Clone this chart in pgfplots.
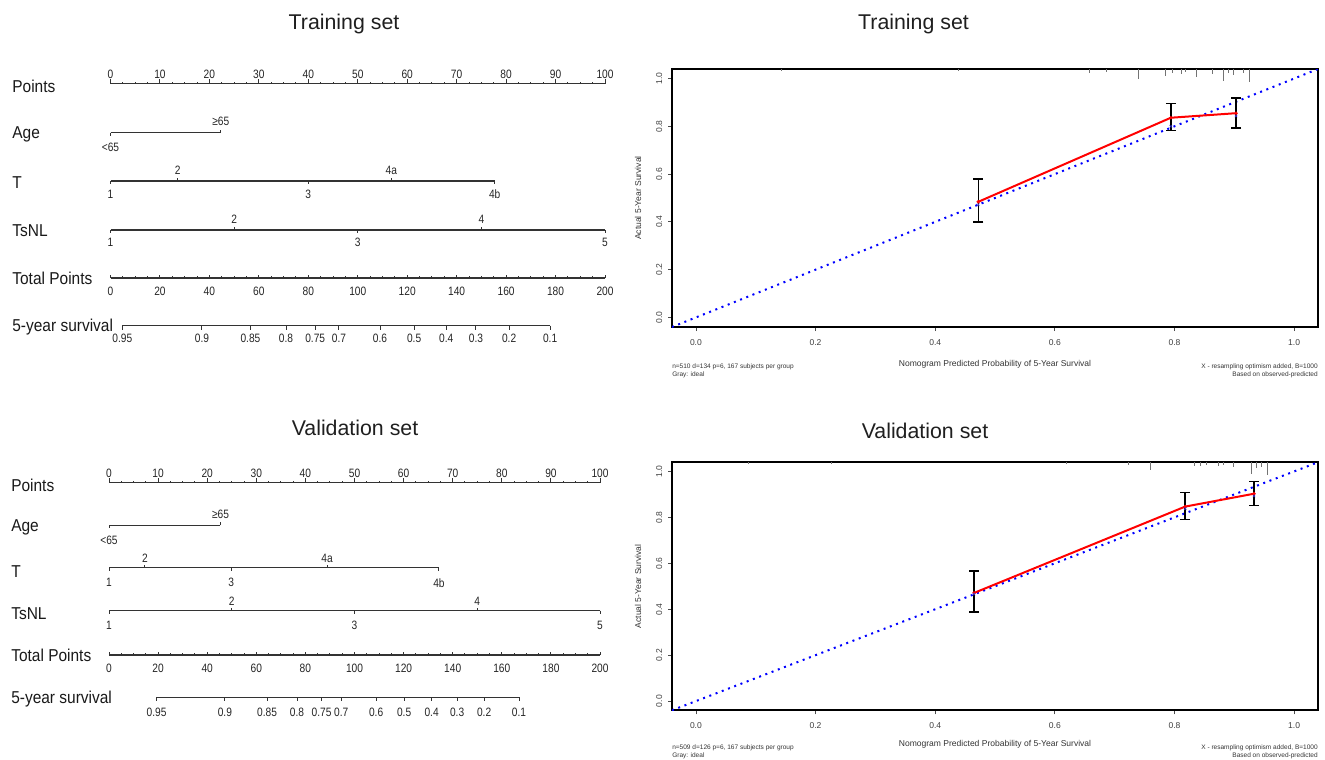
\documentclass[border=0pt]{standalone}
\usepackage{fontspec}
\setmainfont{Liberation Sans}
\newfontfamily\condf[FakeStretch=0.84]{Liberation Sans}
\newfontfamily\rowf[FakeStretch=0.9]{Liberation Sans}
\usepackage{pgfplots}
\usepackage{pgfplotstable}
\pgfplotsset{compat=1.18}
\newcommand{\fs}[1]{\fontsize{#1}{#1}\selectfont}

% tick positions (in points units, 0-100)
\pgfplotstableread[row sep=\\]{x d\\0 0\\10 0\\20 0\\30 0\\40 0\\50 0\\60 0\\70 0\\80 0\\90 0\\100 0\\}\majpos
\pgfplotstableread[row sep=\\]{x d\\2.5 0\\5 0\\7.5 0\\12.5 0\\15 0\\17.5 0\\22.5 0\\25 0\\27.5 0\\32.5 0\\35 0\\37.5 0\\42.5 0\\45 0\\47.5 0\\52.5 0\\55 0\\57.5 0\\62.5 0\\65 0\\67.5 0\\72.5 0\\75 0\\77.5 0\\82.5 0\\85 0\\87.5 0\\92.5 0\\95 0\\97.5 0\\}\minpos

% calibration data
\pgfplotstableread[row sep=\\]{x y lo hi\\0.472 0.484 0.399 0.579\\0.794 0.836 0.782 0.895\\0.903 0.855 0.794 0.919\\}\calTr
\pgfplotstableread[row sep=\\]{x y lo hi\\0.465 0.471 0.388 0.567\\0.818 0.847 0.791 0.908\\0.933 0.903 0.852 0.956\\}\calVa
\pgfplotstableread[row sep=\\]{x len\\0.143 2\\0.438 2\\0.658 4\\0.686 3\\0.740 10\\0.785 7\\0.797 4\\0.811 5\\0.818 3\\0.837 8\\0.864 5\\0.881 12\\0.890 4\\0.899 6\\0.915 4\\0.926 13\\}\rugTr
\pgfplotstableread[row sep=\\]{x len\\0.088 2\\0.227 2\\0.619 2\\0.723 3\\0.760 8\\0.834 4\\0.843 4\\0.853 3\\0.873 4\\0.882 3\\0.898 5\\0.928 12\\0.937 6\\0.946 5\\0.956 13\\}\rugVa
\pgfplotstableread[row sep=\\]{x d\\2.4 0\\18.5 0\\28.3 0\\35.5 0\\41.4 0\\46.2 0\\54.5 0\\61.4 0\\67.9 0\\73.9 0\\80.6 0\\88.9 0\\}\survTr
\pgfplotstableread[row sep=\\]{x d\\9.7 0\\23.6 0\\32.2 0\\38.3 0\\43.3 0\\47.3 0\\54.4 0\\60.1 0\\65.7 0\\70.9 0\\76.4 0\\83.5 0\\}\survVa

\tikzset{
  tlab/.style={font=\condf\fs{9.1pt}, text=black!85, inner sep=0pt, anchor=center},
  rlab/.style={font=\rowf\fs{12.9pt}, text=black!90, inner sep=0pt, anchor=base west},
  ttl/.style={font=\fs{16pt}, text=black!88, inner sep=0pt, anchor=base},
  fn/.style={font=\fs{4.9pt}, text=black!80, inner sep=0pt},
}
\newcommand{\nl}[3]{\node[tlab] at (axis cs:#1,#2) {#3};}

\pgfplotsset{
  nomo/.style={scale only axis, hide axis, clip=false, y dir=reverse, width=465pt, height=285pt},
  nline/.style={black!80, line width=1pt, mark=none},
  ntick/.style={black!80, line width=0.75pt, mark=none},
  calib/.style={
    scale only axis, width=484.5pt, clip mode=individual,
    xmin=-0.04, xmax=1.04, ymin=-0.04, ymax=1.04,
    axis line style={line width=1.5pt, black},
    xtick pos=left, ytick pos=left, tick align=outside, major tick length=3pt,
    tick style={black!70, line width=0.6pt},
    xtick={0,0.2,0.4,0.6,0.8,1}, xticklabels={0.0,0.2,0.4,0.6,0.8,1.0},
    ytick={0,0.2,0.4,0.6,0.8,1}, yticklabels={0.0,0.2,0.4,0.6,0.8,1.0},
    ticklabel style={font=\fs{6.4pt}, text=black!75},
    xticklabel style={inner sep=5.9pt},
    yticklabel style={rotate=90, anchor=south, inner sep=4.2pt},
    xlabel={Nomogram Predicted Probability of 5-Year Survival},
    ylabel={Actual 5-Year Survival},
    label style={font=\fs{6.4pt}, text=black!80},
    ylabel style={at={(axis description cs:-0.0527,0.5)}, anchor=center},
  },
  diag/.style={blue, line width=1.5pt, dash pattern=on 1.5pt off 3.5pt, mark=none},
  calline/.style={red, line width=1.5pt, mark=*, mark size=1.1pt, mark options={fill=red, draw=red, line width=0.4pt},
    error bars/.cd, y dir=both, y explicit,
    error bar style={black, line width=1.1pt},
    error mark options={rotate=90, black, line width=1.1pt, mark size=3.75pt}},
}

\begin{document}
\begin{tikzpicture}
\useasboundingbox (0,0) rectangle (993.75pt,-570pt);

% ---------- titles ----------
\node[ttl] at (344*0.75pt,-29.2*0.75pt) {Training set};
\node[ttl] at (913.5*0.75pt,-29.7*0.75pt) {Training set};
\node[ttl] at (355*0.75pt,-435.7*0.75pt) {Validation set};
\node[ttl] at (925*0.75pt,-438.7*0.75pt) {Validation set};

% ---------- Training nomogram ----------
\begin{axis}[nomo, at={(0pt,0pt)}, anchor=north west, xmin=-22.346, xmax=103.03, ymin=0, ymax=380]
\node[rlab] at (axis cs:-19.9,92.2) {Points};
\node[rlab] at (axis cs:-19.9,138.7) {Age};
\node[rlab] at (axis cs:-19.9,188.7) {T};
\node[rlab] at (axis cs:-19.9,236.7) {TsNL};
\node[rlab] at (axis cs:-19.9,284.2) {Total Points};
\node[rlab] at (axis cs:-19.9,331.7) {5-year survival};
% Points
\addplot[nline] coordinates {(0,83.5) (100,83.5)};
\addplot[ntick, quiver={u=0,v=-5}] table[x=x, y expr=83.5] {\majpos};
\addplot[ntick, quiver={u=0,v=-2}] table[x=x, y expr=83.5] {\minpos};
\nl{0}{74.5}{0}\nl{10}{74.5}{10}\nl{20}{74.5}{20}\nl{30}{74.5}{30}\nl{40}{74.5}{40}\nl{50}{74.5}{50}
\nl{60}{74.5}{60}\nl{70}{74.5}{70}\nl{80}{74.5}{80}\nl{90}{74.5}{90}\nl{100}{74.5}{100}
% Age
\addplot[nline] coordinates {(0,132.5) (22.3,132.5)};
\addplot[ntick, quiver={u=0,v=\thisrow{v}}] table[row sep=\\] {x y v\\0 132.5 3\\22.3 132.5 -3\\};
\nl{0}{147}{<65}\nl{22.3}{121.5}{≥65}
% T
\addplot[nline] coordinates {(0,181) (77.7,181)};
\addplot[ntick, quiver={u=0,v=\thisrow{v}}] table[row sep=\\] {x y v\\0 181 3\\13.6 181 -3\\40 181 3\\56.8 181 -3\\77.7 181 3\\};
\nl{0}{194}{1}\nl{13.6}{170}{2}\nl{40}{194}{3}\nl{56.8}{170}{4a}\nl{77.7}{194}{4b}
% TsNL
\addplot[nline] coordinates {(0,230) (100,230)};
\addplot[ntick, quiver={u=0,v=\thisrow{v}}] table[row sep=\\] {x y v\\0 230 3\\25 230 -3\\50 230 3\\75 230 -3\\100 230 3\\};
\nl{0}{242}{1}\nl{25}{219}{2}\nl{50}{242}{3}\nl{75}{219}{4}\nl{100}{242}{5}
% Total points
\addplot[nline] coordinates {(0,278) (100,278)};
\addplot[ntick, quiver={u=0,v=-3.5}] table[x=x, y expr=278] {\majpos};
\addplot[ntick, quiver={u=0,v=-2.5}] table[x=x, y expr=278] {\minpos};
\nl{0}{291}{0}\nl{10}{291}{20}\nl{20}{291}{40}\nl{30}{291}{60}\nl{40}{291}{80}\nl{50}{291}{100}
\nl{60}{291}{120}\nl{70}{291}{140}\nl{80}{291}{160}\nl{90}{291}{180}\nl{100}{291}{200}
% 5-year survival
\addplot[nline] coordinates {(2.4,325.5) (88.9,325.5)};
\addplot[ntick, quiver={u=0,v=4}] table[x=x, y expr=325.5] {\survTr};
\nl{2.4}{338}{0.95}\nl{18.5}{338}{0.9}\nl{28.3}{338}{0.85}\nl{35.5}{338}{0.8}\nl{41.4}{338}{0.75}\nl{46.2}{338}{0.7}
\nl{54.5}{338}{0.6}\nl{61.4}{338}{0.5}\nl{67.9}{338}{0.4}\nl{73.9}{338}{0.3}\nl{80.6}{338}{0.2}\nl{88.9}{338}{0.1}
\end{axis}

% ---------- Validation nomogram ----------
\begin{axis}[nomo, at={(0pt,-285pt)}, anchor=north west, xmin=-22.20, xmax=104.07, ymin=380, ymax=760]
\node[rlab] at (axis cs:-19.96,491.7) {Points};
\node[rlab] at (axis cs:-19.96,531.2) {Age};
\node[rlab] at (axis cs:-19.96,577.2) {T};
\node[rlab] at (axis cs:-19.96,619.7) {TsNL};
\node[rlab] at (axis cs:-19.96,661.7) {Total Points};
\node[rlab] at (axis cs:-19.96,703.7) {5-year survival};
% Points
\addplot[nline] coordinates {(0,482.7) (100,482.7)};
\addplot[ntick, quiver={u=0,v=-5}] table[x=x, y expr=482.7] {\majpos};
\addplot[ntick, quiver={u=0,v=-2}] table[x=x, y expr=482.7] {\minpos};
\nl{0}{473.3}{0}\nl{10}{473.3}{10}\nl{20}{473.3}{20}\nl{30}{473.3}{30}\nl{40}{473.3}{40}\nl{50}{473.3}{50}
\nl{60}{473.3}{60}\nl{70}{473.3}{70}\nl{80}{473.3}{80}\nl{90}{473.3}{90}\nl{100}{473.3}{100}
% Age
\addplot[nline] coordinates {(0,525.3) (22.7,525.3)};
\addplot[ntick, quiver={u=0,v=\thisrow{v}}] table[row sep=\\] {x y v\\0 525.3 3\\22.7 525.3 -3\\};
\nl{0}{540}{<65}\nl{22.7}{514}{≥65}
% T
\addplot[nline] coordinates {(0,567.7) (67.2,567.7)};
\addplot[ntick, quiver={u=0,v=\thisrow{v}}] table[row sep=\\] {x y v\\0 567.7 3\\7.3 567.7 -3\\24.9 567.7 3\\44.4 567.7 -3\\67.2 567.7 3\\};
\nl{0}{582.7}{1}\nl{7.3}{558.3}{2}\nl{24.9}{582.7}{3}\nl{44.4}{558.3}{4a}\nl{67.2}{582.7}{4b}
% TsNL
\addplot[nline] coordinates {(0,610.7) (100,610.7)};
\addplot[ntick, quiver={u=0,v=\thisrow{v}}] table[row sep=\\] {x y v\\0 610.7 3\\25 610.7 -3\\50 610.7 3\\75 610.7 -3\\100 610.7 3\\};
\nl{0}{625.3}{1}\nl{25}{601}{2}\nl{50}{625.3}{3}\nl{75}{601}{4}\nl{100}{625.3}{5}
% Total points
\addplot[nline] coordinates {(0,655) (100,655)};
\addplot[ntick, quiver={u=0,v=-3.5}] table[x=x, y expr=655] {\majpos};
\addplot[ntick, quiver={u=0,v=-2.5}] table[x=x, y expr=655] {\minpos};
\nl{0}{668.3}{0}\nl{10}{668.3}{20}\nl{20}{668.3}{40}\nl{30}{668.3}{60}\nl{40}{668.3}{80}\nl{50}{668.3}{100}
\nl{60}{668.3}{120}\nl{70}{668.3}{140}\nl{80}{668.3}{160}\nl{90}{668.3}{180}\nl{100}{668.3}{200}
% 5-year survival
\addplot[nline] coordinates {(9.7,697.3) (83.5,697.3)};
\addplot[ntick, quiver={u=0,v=4}] table[x=x, y expr=697.3] {\survVa};
\nl{9.7}{712.3}{0.95}\nl{23.6}{712.3}{0.9}\nl{32.2}{712.3}{0.85}\nl{38.3}{712.3}{0.8}\nl{43.3}{712.3}{0.75}\nl{47.3}{712.3}{0.7}
\nl{54.4}{712.3}{0.6}\nl{60.1}{712.3}{0.5}\nl{65.7}{712.3}{0.4}\nl{70.9}{712.3}{0.3}\nl{76.4}{712.3}{0.2}\nl{83.5}{712.3}{0.1}
\end{axis}

% ---------- Training calibration ----------
\begin{axis}[calib, at={(504pt,-51.75pt)}, anchor=north west, height=193.5pt,
  xlabel style={at={(axis description cs:0.5,-0.1434)}, anchor=center}]
\addplot[black!55, line width=0.6pt, mark=none, quiver={u=0,v={-\thisrow{len}/238.9}}] table[x=x, y expr=1.04] {\rugTr};
\addplot[diag] coordinates {(-0.04,-0.04) (1.04,1.04)};
\addplot[calline] table[x=x, y=y, y error plus expr=\thisrow{hi}-\thisrow{y}, y error minus expr=\thisrow{y}-\thisrow{lo}] {\calTr};
\addplot[only marks, mark=x, mark size=1.3pt, blue!60!gray, line width=0.4pt] coordinates {(0.472,0.472) (0.794,0.800) (0.903,0.843)};
\node[fn, anchor=west, yshift=-29.8pt] at (rel axis cs:0,0) {n=510 d=134 p=6, 167 subjects per group};
\node[fn, anchor=west, yshift=-36.2pt] at (rel axis cs:0,0) {Gray: ideal};
\node[fn, anchor=east, yshift=-29.8pt] at (rel axis cs:1,0) {X - resampling optimism added, B=1000};
\node[fn, anchor=east, yshift=-36.2pt] at (rel axis cs:1,0) {Based on observed-predicted};
\end{axis}

% ---------- Validation calibration ----------
\begin{axis}[calib, at={(504pt,-346.7pt)}, anchor=north west, height=186pt,
  xlabel style={at={(axis description cs:0.5,-0.137)}, anchor=center}]
\addplot[black!55, line width=0.6pt, mark=none, quiver={u=0,v={-\thisrow{len}/229.6}}] table[x=x, y expr=1.04] {\rugVa};
\addplot[diag] coordinates {(-0.04,-0.04) (1.04,1.04)};
\addplot[calline] table[x=x, y=y, y error plus expr=\thisrow{hi}-\thisrow{y}, y error minus expr=\thisrow{y}-\thisrow{lo}] {\calVa};
\addplot[only marks, mark=x, mark size=1.3pt, blue!60!gray, line width=0.4pt] coordinates {(0.465,0.466) (0.818,0.838) (0.933,0.893)};
\node[fn, anchor=west, yshift=-28.3pt] at (rel axis cs:0,0) {n=509 d=126 p=6, 167 subjects per group};
\node[fn, anchor=west, yshift=-34.3pt] at (rel axis cs:0,0) {Gray: ideal};
\node[fn, anchor=east, yshift=-28.3pt] at (rel axis cs:1,0) {X - resampling optimism added, B=1000};
\node[fn, anchor=east, yshift=-34.3pt] at (rel axis cs:1,0) {Based on observed-predicted};
\end{axis}
\end{tikzpicture}
\end{document}
